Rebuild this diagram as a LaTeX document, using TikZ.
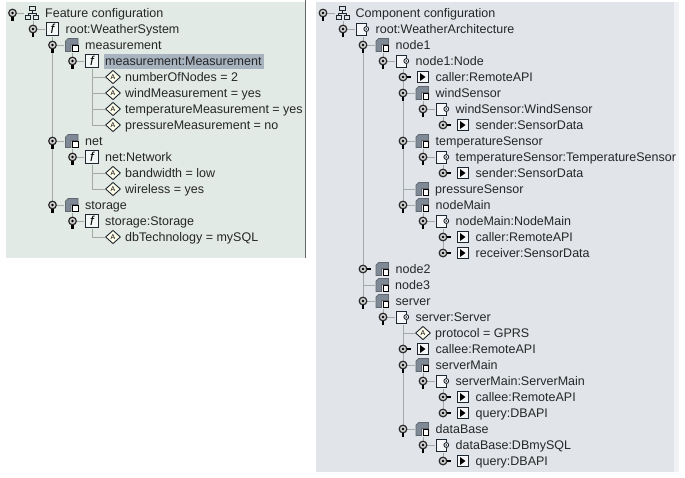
\documentclass[tikz,border=0pt]{standalone}
\usepackage{fontspec}
\setmainfont{Liberation Sans}
\usetikzlibrary{shapes.geometric}
\pgfdeclarelayer{panels}\pgfdeclarelayer{lines}
\pgfsetlayers{panels,lines,main}
\definecolor{leftbg}{HTML}{E2EAE6}
\definecolor{rightbg}{HTML}{E1E5EA}
\definecolor{hilite}{HTML}{A8B3C0}
\definecolor{edge}{HTML}{1E2630}
\definecolor{wire}{HTML}{A4A9AC}
\definecolor{block}{HTML}{7F8A96}
\tikzset{
  x=1pt,y=-1pt,
  label text/.style={anchor=base west,inner sep=0pt,text=black!85,font=\fontsize{12.5}{13}\selectfont},
  wire line/.style={draw=wire,line width=1pt},
  knob/.style={circle,draw=black!85,fill=black!18,line width=1.2pt,minimum size=7.6pt,inner sep=0pt,
    path picture={\fill[black] (path picture bounding box.center) circle (1.4);}},
  stem/.style={draw=black,line width=2.3pt},
  iconbox/.style={rectangle,minimum size=15pt,inner sep=0pt},
  fbox/.style={iconbox,path picture={\begin{scope}[shift={(path picture bounding box.center)}]
      \draw[edge,fill=white!60!leftbg,line width=.9pt] (-6.2,-6.2) rectangle (6.2,6.2);
      \node[inner sep=0pt,font=\fontsize{13}{13}\selectfont\itshape] (f) at (0,0) {f};
      \end{scope}}},
  inst/.style={iconbox,path picture={\begin{scope}[shift={(path picture bounding box.center)}]
      \draw[edge,fill=white!70!rightbg,line width=1pt] (-6,-6) rectangle (4,6);
      \draw[edge,fill=white,line width=.9pt] (3.8,0) circle (2.4);
      \fill[edge] (3.8,0) circle (.9);
      \end{scope}}},
  comp/.style={iconbox,path picture={\begin{scope}[shift={(path picture bounding box.center)}]
      \fill[block,draw=edge!70,line width=.7pt] (-6.5,6.5) -- (-6.5,-4) -- (-4,-6.5) -- (6,-6.5) -- (6,-.5) -- (-1,-.5) -- (-1,6.5) -- cycle;
      \draw[black,fill=white,line width=.9pt] (.5,.5) rectangle (6.3,6.3);
      \end{scope}}},
  play/.style={iconbox,path picture={\begin{scope}[shift={(path picture bounding box.center)}]
      \draw[edge,fill=white!70!rightbg,line width=1pt] (-5.5,-5.5) rectangle (5.5,5.5);
      \fill[black] (-2.5,-4) -- (3,0) -- (-2.5,4) -- cycle;
      \end{scope}}},
  conf/.style={iconbox,path picture={\begin{scope}[shift={(path picture bounding box.center)}]
      \draw[edge,line width=.9pt] (-3,-6.5) rectangle (3,-2.5);
      \draw[edge,line width=.9pt] (-6.5,2) rectangle (-1.5,6.5);
      \draw[edge,line width=.9pt] (1.5,2) rectangle (6.5,6.5);
      \draw[edge,line width=.7pt] (0,-2.5) -- (0,0) (-4,2) -- (-4,0) -- (4,0) -- (4,2);
      \end{scope}}},
  attr/.style={diamond,draw=edge,fill=yellow!8,line width=.9pt,minimum width=15pt,minimum height=13.5pt,inner sep=0pt,
    font=\fontsize{7}{7}\selectfont},
}
% knob rows: name, icon style, knob x, y, text
\newcommand{\rowD}[5]{%
  \node[#2] (#1-i) at (#3+19.5,#4) {};
  \node[label text] (#1-t) at (#3+32.5,#4+4.5) {#5};
  \node[knob] (#1-k) at (#3,#4) {};
  \draw[stem] (#1-k.south) -- ++(0,3.5);
  \begin{pgfonlayer}{lines}\draw[wire line] (#1-k) -- (#1-i);\end{pgfonlayer}}
\newcommand{\rowR}[5]{%
  \node[#2] (#1-i) at (#3+19.5,#4) {};
  \node[label text] (#1-t) at (#3+32.5,#4+4.5) {#5};
  \node[knob] (#1-k) at (#3,#4) {};
  \draw[stem] (#1-k.east) -- ++(3.5,0);}
% attribute row: name, icon x, y, text
\newcommand{\rowA}[4]{%
  \node[attr] (#1-i) at (#2,#3) {A};
  \node[label text] (#1-t) at (#2+12,#3+4.5) {#4};}
% plain row without knob
\newcommand{\rowP}[4]{%
  \node[comp] (#1-i) at (#2,#3) {};
  \node[label text] (#1-t) at (#2+12.5,#3+4.5) {#4};}
\newcommand{\vwire}[2]{\begin{pgfonlayer}{lines}\draw[wire line] (#1.south -| #2) -- (#2);\end{pgfonlayer}}
\newcommand{\elbow}[2]{\begin{pgfonlayer}{lines}\draw[wire line] (#1.south) |- (#2.west);\end{pgfonlayer}}
\newcommand{\hwire}[2]{\begin{pgfonlayer}{lines}\draw[wire line] (#1.west) -- (#1.west -| #2);\end{pgfonlayer}}
\begin{document}
\begin{tikzpicture}
\useasboundingbox (0,0) rectangle (685,477);
\begin{pgfonlayer}{panels}
  \fill[leftbg] (6,2) rectangle (305,258);
  \draw[black!60,line width=1pt] (305,0) -- (305,258);
  \fill[rightbg] (316,2) rectangle (674,472);
  \fill[rightbg!50!white] (674,2) rectangle (679,472);
  \fill[hilite] (104,53.5) rectangle (264,69);
\end{pgfonlayer}

% Feature configuration
\rowD{fc}{conf}{12.5}{13}{Feature configuration}
\rowD{ws}{fbox}{33}{29}{root:WeatherSystem}
\rowD{meas}{comp}{52.5}{45}{measurement}
\rowD{measI}{fbox}{72.5}{61}{measurement:Measurement}
\rowA{nn}{113}{77}{numberOfNodes = 2}
\rowA{wm}{113}{93}{windMeasurement = yes}
\rowA{tm}{113}{109}{temperatureMeasurement = yes}
\rowA{pm}{113}{125}{pressureMeasurement = no}
\rowD{net}{comp}{52.5}{141}{net}
\rowD{netI}{fbox}{72.5}{157}{net:Network}
\rowA{bw}{113}{173}{bandwidth = low}
\rowA{wl}{113}{189}{wireless = yes}
\rowD{sto}{comp}{52.5}{205}{storage}
\rowD{stoI}{fbox}{72.5}{221}{storage:Storage}
\rowA{db}{113}{237}{dbTechnology = mySQL}

\vwire{fc-i}{ws-k}
\vwire{ws-i}{sto-k}
\foreach \c in {nn,wm,tm,pm} {\elbow{measI-i}{\c-i}}
\foreach \c in {bw,wl} {\elbow{netI-i}{\c-i}}
\elbow{stoI-i}{db-i}

% Component configuration
\rowD{cc}{conf}{323}{13}{Component configuration}
\rowD{wa}{inst}{343}{29}{root:WeatherArchitecture}
\rowD{n1}{comp}{363}{45}{node1}
\rowD{n1I}{inst}{383}{61}{node1:Node}
\rowR{n1c}{play}{403}{77}{caller:RemoteAPI}
\rowD{wsn}{comp}{403}{93}{windSensor}
\rowD{wsnI}{inst}{423}{109}{windSensor:WindSensor}
\rowR{wsnS}{play}{443}{125}{sender:SensorData}
\rowD{tsn}{comp}{403}{141}{temperatureSensor}
\rowD{tsnI}{inst}{423}{157}{temperatureSensor:TemperatureSensor}
\rowR{tsnS}{play}{443}{173}{sender:SensorData}
\rowP{psn}{422.5}{189}{pressureSensor}
\rowD{nm}{comp}{403}{205}{nodeMain}
\rowD{nmI}{inst}{423}{221}{nodeMain:NodeMain}
\rowR{nmC}{play}{443}{237}{caller:RemoteAPI}
\rowR{nmR}{play}{443}{253}{receiver:SensorData}
\rowR{n2}{comp}{363}{269}{node2}
\rowP{n3}{382.5}{285}{node3}
\rowD{srv}{comp}{363}{301}{server}
\rowD{srvI}{inst}{383}{317}{server:Server}
\rowA{pr}{423}{333}{protocol = GPRS}
\rowR{srvC}{play}{403}{349}{callee:RemoteAPI}
\rowD{sm}{comp}{403}{365}{serverMain}
\rowD{smI}{inst}{423}{381}{serverMain:ServerMain}
\rowR{smC}{play}{443}{397}{callee:RemoteAPI}
\rowR{smQ}{play}{443}{413}{query:DBAPI}
\rowD{dbs}{comp}{403}{429}{dataBase}
\rowD{dbsI}{inst}{423}{445}{dataBase:DBmySQL}
\rowR{dbsQ}{play}{443}{461}{query:DBAPI}

\vwire{cc-i}{wa-k}
\vwire{wa-i}{srv-k}
\vwire{n1I-i}{nm-k}
\vwire{wsnI-i}{wsnS-k}
\vwire{tsnI-i}{tsnS-k}
\vwire{nmI-i}{nmR-k}
\vwire{srvI-i}{dbs-k}
\vwire{smI-i}{smQ-k}
\vwire{dbsI-i}{dbsQ-k}
\vwire{n1-i}{n1I-k}
\vwire{srv-i}{srvI-k}
\vwire{wsn-i}{wsnI-k}
\vwire{tsn-i}{tsnI-k}
\vwire{nm-i}{nmI-k}
\vwire{sm-i}{smI-k}
\vwire{dbs-i}{dbsI-k}
\vwire{meas-i}{measI-k}
\vwire{net-i}{netI-k}
\vwire{sto-i}{stoI-k}
\hwire{psn-i}{wsn-k}
\hwire{n3-i}{n1-k}
\begin{pgfonlayer}{lines}\draw[wire line] (pr-i.west) -- (pr-i.west -| sm-k);\end{pgfonlayer}
\end{tikzpicture}
\end{document}
